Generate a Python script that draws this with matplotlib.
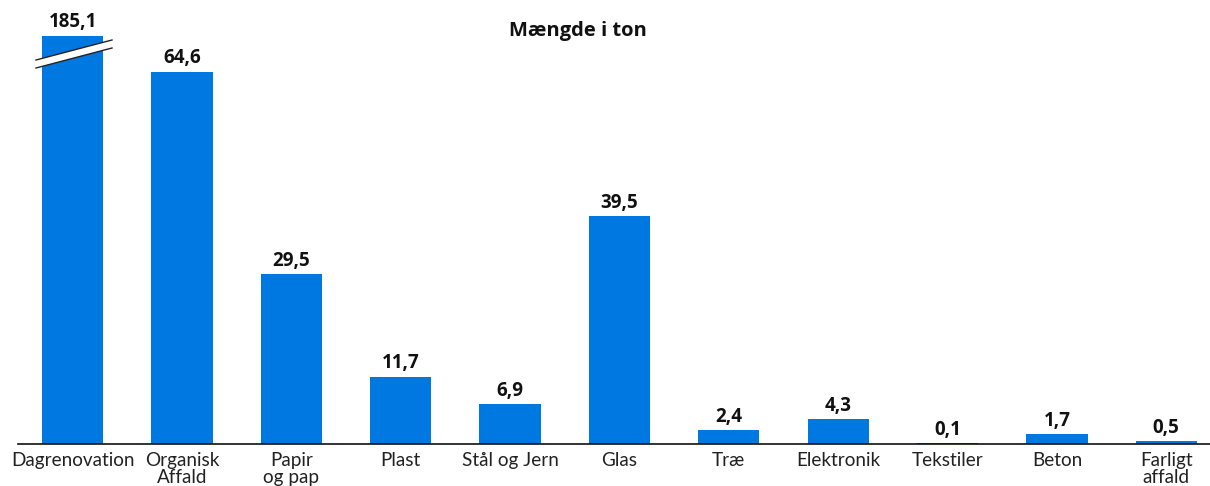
import matplotlib
matplotlib.use("Agg")
import matplotlib.pyplot as plt
from matplotlib.patches import Polygon
from matplotlib.lines import Line2D

categories = ["Dagrenovation", "Organisk\nAffald", "Papir\nog pap", "Plast", "Stål og Jern",
              "Glas", "Træ", "Elektronik", "Tekstiler", "Beton", "Farligt\naffald"]
values = [185.1, 64.6, 29.5, 11.7, 6.9, 39.5, 2.4, 4.3, 0.1, 1.7, 0.5]
value_labels = ["185,1", "64,6", "29,5", "11,7", "6,9", "39,5", "2,4", "4,3", "0,1", "1,7", "0,5"]
break_height = 70.8  # displayed height of the truncated first bar
title = "Mængde i ton"

plt.rcParams['font.family'] = ['Lato', 'DejaVu Sans']
color = "#0078E1"
bold_font = ['Open Sans', 'DejaVu Sans']

fig = plt.figure(figsize=(12.10, 4.86), dpi=100)
ax = fig.add_axes([18/1210, 42/486, 1192/1210, 434/486])

disp = [min(v, break_height) for v in values]
x = list(range(len(categories)))
ax.bar(x, disp, width=0.56, color=color, zorder=2)

ax.set_xlim(-0.5, 10.4)
ax.set_ylim(0, 75.3)

for xi, h, lab in zip(x, disp, value_labels):
    ax.text(xi, h + 0.6, lab, ha="center", va="bottom", fontsize=13.5,
            fontweight="bold", color="#111111", family=bold_font)

def px_to_data(px, py):
    inv = ax.transData.inverted()
    return inv.transform((px, 486 - py))
fig.canvas.draw()
p1 = px_to_data(36, 60); p2 = px_to_data(112, 40)
p3 = px_to_data(112, 48); p4 = px_to_data(36, 68)
ax.add_patch(Polygon([p1, p2, p3, p4], closed=True, facecolor="white",
                     edgecolor="none", zorder=3, clip_on=False))
ax.add_line(Line2D([p1[0], p2[0]], [p1[1], p2[1]], color="#222222", lw=1.0, zorder=4, clip_on=False))
ax.add_line(Line2D([p4[0], p3[0]], [p4[1], p3[1]], color="#222222", lw=1.0, zorder=4, clip_on=False))

for s in ["top", "right", "left"]:
    ax.spines[s].set_visible(False)
ax.spines["bottom"].set_color("#111111")
ax.spines["bottom"].set_linewidth(1.2)
ax.set_yticks([])
ax.set_xticks(x)
ax.set_xticklabels(categories, fontsize=13.6, color="#222222", linespacing=0.95,
                   multialignment="center")
ax.tick_params(axis="x", length=0, pad=6)

fig.text(578/1210, 1 - 31/486, title, ha="center", va="center",
         fontsize=14.5, fontweight="bold", color="#111111", family=bold_font)

fig.savefig("out.png", dpi=100)
